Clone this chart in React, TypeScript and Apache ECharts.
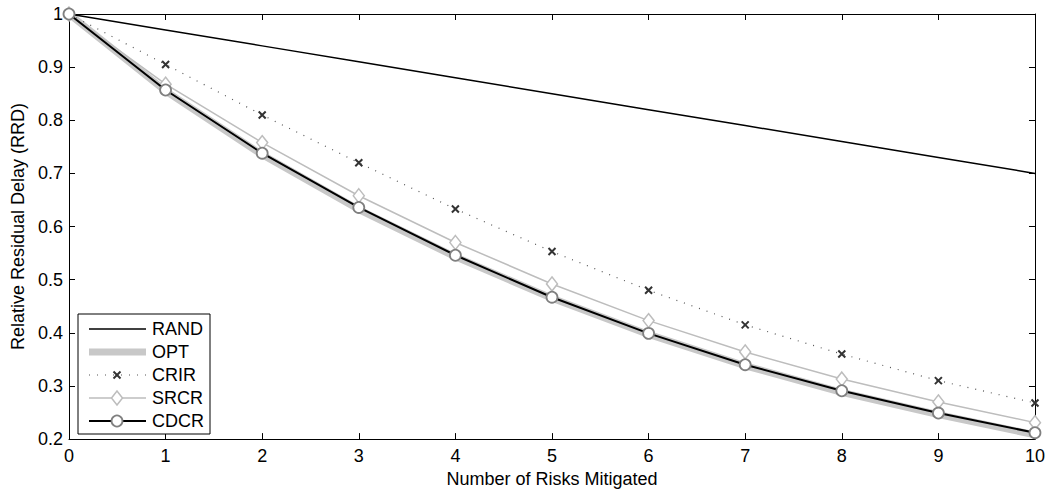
import React, { useEffect, useRef } from "react";
import * as echarts from "echarts";

const xTicks = [0, 1, 2, 3, 4, 5, 6, 7, 8, 9, 10];
const randValues = [1, 0.97, 0.94, 0.91, 0.88, 0.85, 0.82, 0.79, 0.76, 0.73, 0.70];
const optValues = [1, 0.855, 0.735, 0.632, 0.543, 0.465, 0.397, 0.338, 0.288, 0.246, 0.208];
const crirValues = [1, 0.905, 0.81, 0.72, 0.633, 0.553, 0.48, 0.415, 0.36, 0.31, 0.268];
const srcrValues = [1, 0.868, 0.758, 0.658, 0.57, 0.492, 0.423, 0.364, 0.313, 0.27, 0.231];
const cdcrValues = [1, 0.857, 0.738, 0.636, 0.546, 0.467, 0.399, 0.34, 0.291, 0.249, 0.212];
const legendNames = ["RAND", "OPT", "CRIR", "SRCR", "CDCR"];

const pair = (v: number[]) => v.map((y, i) => [xTicks[i], y]);

const FONT = "'Liberation Sans', Arial, sans-serif";
const XPATH = "M0,0L10,10M10,0L0,10";

export default function App() {
  const ref = useRef<HTMLDivElement>(null);
  useEffect(() => {
    const chart = echarts.init(ref.current!, null, { renderer: "svg" });
    const axisCommon = {
      axisLine: { show: true, onZero: false, lineStyle: { color: "#000", width: 1 } },
      axisTick: { show: true, inside: true, length: 6, lineStyle: { color: "#000" } },
      splitLine: { show: false },
    };

    // legend drawn with graphic elements
    const lx0 = 78, ly0 = 314, lw = 132, lh = 120;
    const rowY = [329, 352, 375, 398, 421];
    const lineX1 = 89, lineX2 = 146, markX = 117, textX = 152;
    const legendEls: any[] = [
      { type: "rect", shape: { x: lx0, y: ly0, width: lw, height: lh }, style: { fill: "#fff", stroke: "#000", lineWidth: 1 }, z: 10 },
    ];
    const lineStyles = [
      { stroke: "#000", lineWidth: 1.5 },
      { stroke: "#c8c8c8", lineWidth: 7 },
      { stroke: "#555", lineWidth: 1.2, lineDash: [1, 7] },
      { stroke: "#bdbdbd", lineWidth: 1.5 },
      { stroke: "#000", lineWidth: 2 },
    ];
    legendNames.forEach((name, i) => {
      const y = rowY[i];
      legendEls.push({ type: "line", shape: { x1: lineX1, y1: y, x2: lineX2, y2: y }, style: lineStyles[i], z: 11 });
      legendEls.push({
        type: "text", x: textX, y, z: 12,
        style: { text: name, fill: "#000", font: `18px ${FONT}`, verticalAlign: "middle", align: "left" },
      });
    });
    legendEls.push({ type: "polyline", shape: { points: [[markX - 3.5, rowY[2] - 3.5], [markX + 3.5, rowY[2] + 3.5]] }, style: { stroke: "#333", lineWidth: 2 }, z: 12 });
    legendEls.push({ type: "polyline", shape: { points: [[markX + 3.5, rowY[2] - 3.5], [markX - 3.5, rowY[2] + 3.5]] }, style: { stroke: "#333", lineWidth: 2 }, z: 12 });
    legendEls.push({
      type: "polygon", z: 12,
      shape: { points: [[markX, rowY[3] - 7], [markX + 5.5, rowY[3]], [markX, rowY[3] + 7], [markX - 5.5, rowY[3]]] },
      style: { fill: "#fff", stroke: "#bdbdbd", lineWidth: 1.5 },
    });
    legendEls.push({
      type: "circle", z: 12, shape: { cx: markX, cy: rowY[4], r: 5.5 },
      style: { fill: "#fff", stroke: "#808080", lineWidth: 1.8 },
    });

    chart.setOption({
      animation: false,
      backgroundColor: "#fff",
      textStyle: { fontFamily: FONT },
      grid: { left: 69, right: 11, top: 14, bottom: 50, containLabel: false },
      xAxis: [
        {
          type: "value", min: 0, max: 10, interval: 1, position: "bottom",
          ...axisCommon,
          axisLabel: { color: "#000", fontSize: 18, fontFamily: FONT, margin: 8 },
          name: "Number of Risks Mitigated", nameLocation: "middle", nameGap: 30,
          nameTextStyle: { color: "#000", fontSize: 18, fontFamily: FONT, verticalAlign: "top" },
        },
        {
          type: "value", min: 0, max: 10, interval: 1, position: "top",
          ...axisCommon, axisLabel: { show: false },
        },
      ],
      yAxis: [
        {
          type: "value", min: 0.2, max: 1, interval: 0.1, position: "left",
          ...axisCommon,
          axisLabel: {
            color: "#000", fontSize: 18, fontFamily: FONT, margin: 6,
            formatter: (v: number) => (Math.abs(v - 1) < 1e-9 ? "1" : v.toFixed(1)),
          },
          name: "Relative Residual Delay (RRD)", nameLocation: "middle", nameGap: 42,
          nameTextStyle: { color: "#000", fontSize: 18, fontFamily: FONT },
        },
        {
          type: "value", min: 0.2, max: 1, interval: 0.1, position: "right",
          ...axisCommon, axisLabel: { show: false },
        },
      ],
      graphic: legendEls,
      series: [
        {
          name: "OPT", type: "line", data: pair(optValues), symbol: "none",
          lineStyle: { color: "#c8c8c8", width: 7 }, itemStyle: { color: "#c8c8c8" }, z: 1,
        },
        {
          name: "RAND", type: "line", data: pair(randValues), symbol: "none",
          lineStyle: { color: "#000", width: 1.5 }, itemStyle: { color: "#000" }, z: 2,
        },
        {
          name: "CRIR", type: "line", data: pair(crirValues),
          symbol: "path://" + XPATH, symbolSize: 7,
          lineStyle: { color: "#555", width: 1.2, type: [1, 7] },
          itemStyle: { color: "none", borderColor: "#333", borderWidth: 2 }, z: 3,
        },
        {
          name: "SRCR", type: "line", data: pair(srcrValues),
          symbol: "diamond", symbolSize: [11, 14],
          lineStyle: { color: "#bdbdbd", width: 1.5 },
          itemStyle: { color: "#fff", borderColor: "#bdbdbd", borderWidth: 1.5 }, z: 4,
        },
        {
          name: "CDCR", type: "line", data: pair(cdcrValues),
          symbol: "circle", symbolSize: 11,
          lineStyle: { color: "#000", width: 2 },
          itemStyle: { color: "#fff", borderColor: "#808080", borderWidth: 1.8 }, z: 5,
        },
      ],
    });
    return () => chart.dispose();
  }, []);
  return <div ref={ref} style={{ position: "absolute", left: 0, top: 0, width: 1048, height: 493 }} />;
}
